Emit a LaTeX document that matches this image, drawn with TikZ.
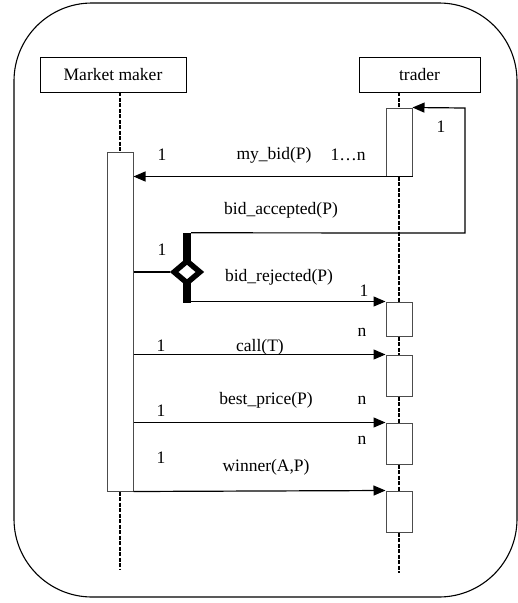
\documentclass[tikz,border=0pt]{standalone}
\usepackage{fontspec}
\setmainfont{Liberation Serif}
\usetikzlibrary{arrows.meta,shapes.geometric}
\begin{document}
\begin{tikzpicture}[x=1pt,y=-1pt,
  font=\fontsize{17.5}{20}\selectfont,
  obj/.style={draw, line width=0.9pt, inner sep=0pt, minimum height=35pt},
  act/.style={draw=black!70, line width=1pt, fill=white, inner sep=0pt, minimum width=26pt},
  life/.style={line width=1.8pt, dash pattern=on 4pt off 1.5pt},
  msg/.style={line width=1.2pt, -{Triangle[length=12pt,width=10pt]}},
  lbl/.style={inner sep=0pt}]
\useasboundingbox (0,0) rectangle (518,603);
% frame
\draw[line width=1.1pt, rounded corners=78pt] (14,3) rectangle (517,597);
% objects
\node[obj, minimum width=146pt] (mm) at (113,74.5) {Market maker};
\node[obj, minimum width=121pt] (tr) at (419.5,74.5) {trader};
% activations
\node[act, minimum height=339pt] (mma) at (120,321.5) {};
\node[act, minimum height=68pt] (ta1) at (399,142) {};
\node[act, minimum height=34pt] (ta2) at (399,319) {};
\node[act, minimum height=41pt] (ta3) at (399,375.5) {};
\node[act, minimum height=41pt] (ta4) at (399,443.5) {};
\node[act, minimum height=41pt] (ta5) at (399,511.5) {};
\coordinate (mmend) at (120,570);
\coordinate (trend) at (399,573);
% lifelines
\draw[life] (mma.north |- mm.south) -- (mma.north);
\draw[life] (mma.south) -- (mmend);
\draw[life] (ta1.north |- tr.south) -- (ta1.north);
\draw[life] (ta1.south) -- (ta2.north);
\draw[life] (ta2.south) -- (ta3.north);
\draw[life] (ta3.south) -- (ta4.north);
\draw[life] (ta4.south) -- (ta5.north);
\draw[life] (ta5.south) -- (trend);
% my_bid
\draw[msg] (ta1.south east) -- (mma.east |- ta1.south);
% decision
\node[fill=black, inner sep=0pt, minimum width=8pt, minimum height=70pt] (bar) at (187,268) {};
\node[diamond, draw, fill=white, line width=5.5pt, inner sep=0pt, minimum width=28pt, minimum height=24pt] (dia) at (187,272) {};
\draw[line width=2.6pt] (mma.east |- dia) -- (dia.west);
% bid_accepted loop
\coordinate (loopb) at (465,233);
\coordinate (loopt) at (465,108);
\draw[msg] (bar.north east) -- (loopb) -- (loopt) -- (ta1.north east);
% bid_rejected
\draw[msg] (bar.east |- ta2.north) -- (ta2.north west);
% call, best_price, winner
\draw[msg] (mma.east |- ta3.north) -- (ta3.north west);
\draw[msg] (mma.east |- ta4.north) -- (ta4.north west);
\draw[msg] (mma.south east) -- (ta5.north west);
% labels
\node[lbl] (l1) at (162,155) {1};
\node[lbl] (lmybid) at (274,155) {my\_bid(P)};
\node[lbl] (l1n) at (348,155) {1…n};
\node[lbl] (lself) at (441,127) {1};
\node[lbl] (lacc) at (281,210) {bid\_accepted(P)};
\node[lbl] (l2) at (162,250) {1};
\node[lbl] (lrej) at (279,277) {bid\_rejected(P)};
\node[lbl] (l3) at (364,291) {1};
\node[lbl] (n1) at (362,332) {n};
\node[lbl] (l4) at (161,346) {1};
\node[lbl] (lcall) at (260,347) {call(T)};
\node[lbl] (lbest) at (266,400) {best\_price(P)};
\node[lbl] (n2) at (362,400) {n};
\node[lbl] (l5) at (161,411) {1};
\node[lbl] (n3) at (362,440) {n};
\node[lbl] (l6) at (161,458) {1};
\node[lbl] (lwin) at (266,467) {winner(A,P)};
\end{tikzpicture}
\end{document}
